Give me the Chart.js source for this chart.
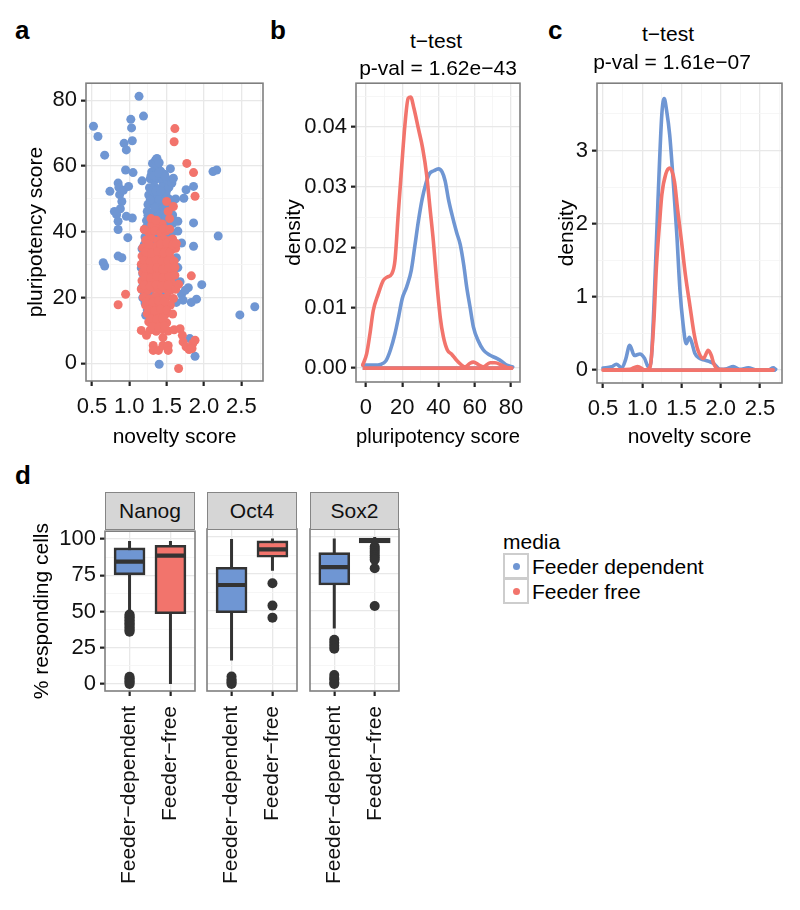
<!DOCTYPE html>
<html>
<head>
<meta charset="utf-8">
<script src="https://cdn.jsdelivr.net/npm/chart.js@4.4.1/dist/chart.umd.min.js"></script>
<style>
  body { margin: 0; background: #fff; }
  #fig { position: relative; width: 800px; height: 910px; overflow: hidden; }
  #fig canvas { position: absolute; }
  .strip { position: absolute; box-sizing: border-box; background: #D6D6D6; border: 1.5px solid #858585;
           display: flex; align-items: center; justify-content: center;
           font: 21px "Liberation Sans", Arial, sans-serif; color: #111; }
  .key { position: absolute; box-sizing: border-box; width: 26px; height: 26px; border: 2px solid #CDCDCD; }
  .key i { position: absolute; left: 8px; top: 8px; width: 7px; height: 7px; border-radius: 50%; }
</style>
</head>
<body>
<div id="fig"></div>
<script>
const FONT = '"Liberation Sans", Arial, sans-serif';
const BLUE = '#6F96D3';
const RED = '#F2746C';
const INK = '#333333';

// legend / groups
const mediaLabels = ['Feeder dependent', 'Feeder free'];

// panel a : novelty vs pluripotency (x, y)
const aDependentPts = [
  [1.33,60.5],[1.38,59.5],[1.30,58.2],[1.36,57.6],[1.42,58.4],[1.28,56.1],[1.34,55.7],[1.40,56.3],[1.45,55.2],
  [1.27,53.4],[1.33,53.9],[1.39,53.1],[1.45,53.7],[1.50,52.6],[1.26,51.2],[1.32,50.6],[1.38,51.4],[1.44,50.8],
  [1.49,51.5],[1.25,48.3],[1.31,48.9],[1.37,48.1],[1.43,48.7],[1.50,48.2],[1.24,46.2],[1.30,45.7],[1.36,46.4],
  [1.42,45.9],[1.48,46.5],[1.23,43.4],[1.29,43.9],[1.35,43.2],[1.41,43.7],[1.47,43.1],[1.22,41.2],[1.28,40.7],
  [1.34,41.4],[1.40,40.9],[1.46,41.3],[1.21,38.4],[1.27,38.9],[1.33,38.2],[1.45,38.6],[1.52,38.1],[1.20,36.1],
  [1.26,35.7],[1.48,36.3],[1.55,35.8],[1.19,33.2],[1.25,32.8],[1.50,33.4],[1.20,30.3],[1.24,29.7],[1.52,30.1],
  [1.18,27.2],[1.23,26.8],[1.19,24.1],[1.24,23.7],[1.47,24.3],[1.20,21.2],[1.26,20.8],[1.44,21.1],[1.21,18.3],
  [1.27,17.8],[1.43,18.1],[1.24,16.2],[1.30,15.8],[1.46,16.4],[1.22,14.6],
  [1.31,60.8],[1.35,61.8],[1.29,57.0],[1.47,57.5],[1.53,50.0],[1.55,47.0],[1.54,44.0],[1.52,41.5],[1.56,39.5],
  [1.58,42.5],[1.57,48.5],[1.53,53.5],[1.51,55.8],[1.25,45.0],[1.31,42.2],[1.37,44.6],[1.43,42.0],[1.49,44.6],
  [1.28,49.6],[1.34,47.3],[1.40,49.9],[1.46,47.4],[1.30,52.5],[1.36,52.4],[1.42,52.3],[1.48,49.8],[1.33,57.0],
  [1.39,57.8],[1.24,39.6],[1.30,39.9],[1.36,39.4],[1.42,38.0],[1.49,39.1],[1.23,36.9],[1.29,36.8],[1.35,36.5],
  [1.41,36.2],[1.22,34.2],[1.28,33.9],[1.46,34.6],[1.53,33.9],[1.21,31.5],[1.27,31.4],[1.55,31.5],[1.22,28.4],
  [1.28,28.6],[1.53,28.0],[1.21,25.6],[1.27,25.4],[1.50,26.6],[1.22,22.5],[1.29,22.4],[1.46,22.8],[1.23,19.5],
  [1.29,19.4],[1.41,19.6],[1.33,16.9],[1.39,16.6],[1.27,14.2],[1.36,14.9],[1.18,19.9],[1.17,23.0],[1.16,29.0],
  [1.17,34.8],
  [1.13,81.2],[1.19,75.2],[0.52,72.1],[0.58,69.0],[1.02,74.2],[1.03,71.6],[0.93,66.9],[1.04,67.7],[0.96,64.9],
  [0.67,63.3],[1.37,62.3],[1.40,61.0],[2.12,58.3],[2.17,58.8],[0.95,58.8],[1.05,58.0],[1.17,55.5],[0.74,52.3],
  [0.85,54.8],[0.86,53.5],[0.87,51.3],[0.90,49.2],[0.92,52.6],[0.83,45.2],[0.85,43.2],[0.88,47.0],[0.80,46.2],
  [0.99,53.8],[0.96,44.7],[1.04,44.2],[0.85,40.7],[0.98,38.2],[0.65,30.6],[0.67,29.6],[0.85,32.6],[0.90,32.1],
  [1.97,23.9],[1.90,19.5],[1.83,18.5],[1.79,23.0],[1.70,21.0],[1.63,18.5],[1.75,22.2],[1.68,24.8],[1.72,19.2],
  [1.86,42.7],[1.86,35.6],[1.86,53.8],[1.76,52.8],[1.73,50.2],[1.57,54.8],[1.59,56.3],[1.48,56.8],[1.55,59.2],
  [1.70,36.6],[1.65,29.1],[1.63,32.1],[1.65,40.2],[1.65,43.2],[1.58,45.1],[1.62,50.0],[2.19,38.7],[2.48,14.7],
  [2.68,17.2],[1.88,2.1],[1.40,-0.3],[1.81,7.5],[1.60,26.0],[1.56,30.0]
];
const aFreePts = [
  [1.30,42.1],[1.38,41.8],[1.44,42.4],[1.26,39.8],[1.34,40.3],[1.42,39.6],[1.49,40.2],
  [1.22,37.4],[1.30,37.9],[1.38,37.2],[1.46,37.7],[1.53,37.3],[1.58,37.8],
  [1.18,35.1],[1.26,34.7],[1.34,35.3],[1.42,34.8],[1.50,35.2],[1.57,34.6],[1.62,35.0],
  [1.17,32.6],[1.25,32.2],[1.33,32.8],[1.41,32.3],[1.49,32.7],[1.55,32.1],
  [1.16,30.1],[1.24,29.6],[1.32,30.3],[1.40,29.8],[1.48,30.2],[1.56,29.7],
  [1.18,27.6],[1.26,27.1],[1.34,27.8],[1.42,27.3],[1.50,27.7],[1.58,27.2],
  [1.17,25.1],[1.25,24.6],[1.33,25.3],[1.41,24.8],[1.49,25.2],[1.56,24.7],
  [1.16,22.6],[1.24,22.1],[1.32,22.8],[1.40,22.3],[1.48,22.7],[1.55,22.2],[1.62,22.5],
  [1.19,20.1],[1.27,19.6],[1.35,20.3],[1.43,19.8],[1.51,20.2],[1.59,19.7],
  [1.22,17.6],[1.30,17.1],[1.38,17.8],[1.46,17.3],[1.55,17.7],
  [1.24,15.1],[1.32,14.6],[1.40,15.3],[1.48,14.8],[1.26,12.6],[1.34,12.1],[1.42,12.8],[1.50,12.3],
  [1.28,10.1],[1.36,9.7],[1.44,10.3],[1.52,9.8],[1.60,10.2],
  [1.20,40.7],[1.46,41.0],[1.54,40.8],[1.29,44.0],[1.36,43.5],[1.20,31.4],[1.28,31.0],[1.36,31.5],[1.44,31.0],
  [1.52,31.2],[1.60,31.0],[1.21,26.3],[1.29,26.0],[1.37,26.5],[1.45,26.0],[1.53,26.3],[1.61,26.8],[1.20,23.8],
  [1.28,23.4],[1.36,23.9],[1.44,23.5],[1.52,23.8],[1.23,18.8],[1.31,18.6],[1.39,19.0],[1.47,18.7],[1.26,16.3],
  [1.34,16.0],[1.42,16.4],[1.50,16.1],[1.29,13.6],[1.37,13.4],[1.45,13.7],[1.31,11.2],[1.39,11.0],[1.47,11.3],
  [1.21,28.9],[1.29,28.7],[1.37,29.0],[1.45,28.6],[1.53,29.0],[1.61,29.2],[1.22,33.9],[1.30,33.5],[1.38,34.0],
  [1.46,33.6],[1.54,33.9],[1.26,36.2],[1.42,36.3],[1.50,36.5],[1.58,36.0],
  [0.85,17.8],[0.95,21.0],[1.16,10.0],[1.23,8.5],[1.68,10.5],[1.71,8.5],[1.72,6.5],[1.76,5.0],[1.80,4.2],
  [1.85,6.0],[1.88,7.0],[1.84,4.5],[1.32,5.4],[1.32,3.9],[1.39,3.9],[1.45,5.4],[1.52,5.4],[1.52,3.9],
  [1.66,-1.6],[1.83,26.6],[1.50,49.2],[1.59,47.7],[1.52,46.2],[1.61,71.4],[1.60,67.4],[1.77,60.8],
  [1.86,58.0],[1.88,50.8],[1.63,36.4],[1.66,24.0],[1.58,15.0],[1.45,7.8],[1.54,44.0]
];
const aXTicks = [0.5, 1, 1.5, 2, 2.5];
const aXLabels = ['0.5', '1.0', '1.5', '2.0', '2.5'];
const aXMinor = [0.75, 1.25, 1.75, 2.25, 2.75];
const aYTicks = [0, 20, 40, 60, 80];
const aYLabels = ['0', '20', '40', '60', '80'];
const aYMinor = [10, 30, 50, 70];

// panel b : density of pluripotency score
const bDependentCurve = [
  [-1.8,0.0005],[5,0.0005],[8,0.0006],[11,0.0012],[13.5,0.003],[16,0.0057],[18,0.0085],[20,0.0115],
  [22.5,0.0135],[25,0.0162],[27,0.0203],[29,0.0245],[31,0.028],[33,0.0305],[35,0.0322],[37.5,0.0327],
  [40,0.033],[42,0.0325],[43.7,0.031],[45.5,0.028],[47.4,0.0255],[50,0.0225],[52,0.0205],[54,0.017],
  [55.6,0.0134],[57.5,0.01],[59.3,0.0068],[62,0.0045],[64.8,0.003],[68,0.0022],[72.2,0.0016],[75,0.0011],
  [77.7,0.0005],[81,0.0002]
];
const bFreeCurve = [
  [-1.8,0.0005],[0.4,0.0024],[2.2,0.0057],[4.0,0.0095],[6.8,0.0123],[9.5,0.0145],[11.8,0.0151],[14.2,0.0156],
  [16,0.0178],[17.8,0.0255],[19.7,0.0333],[21.5,0.0403],[23.3,0.0447],[24.7,0.0449],[26.5,0.043],[28.9,0.0397],
  [31.3,0.0364],[33.5,0.032],[35.3,0.0266],[37.2,0.021],[39,0.0145],[41,0.0084],[42.7,0.0052],[44.9,0.003],
  [47.3,0.0023],[50,0.0013],[52.8,0.0005],[54.7,0.0002],[57.4,0.0008],[59.3,0.001],[62,0.0006],[64.7,0.0002],
  [68.5,0.0009],[71.2,0.0009],[74.9,0.0005],[77.6,0.0001],[80.5,0]
];
const bXTicks = [0, 20, 40, 60, 80];
const bXLabels = ['0', '20', '40', '60', '80'];
const bXMinor = [10, 30, 50, 70];
const bYTicks = [0, 0.01, 0.02, 0.03, 0.04];
const bYLabels = ['0.00', '0.01', '0.02', '0.03', '0.04'];
const bYMinor = [0.005, 0.015, 0.025, 0.035, 0.045];

// panel c : density of novelty score
const cDependentCurve = [
  [0.5,0.03],[0.61,0.045],[0.67,0.08],[0.74,0.03],[0.79,0.15],[0.84,0.34],[0.9,0.2],[0.97,0.22],[1.03,0.16],
  [1.08,0.04],[1.11,0.1],[1.15,0.9],[1.2,2.3],[1.25,3.5],[1.28,3.71],[1.31,3.55],[1.35,3.21],[1.4,2.5],
  [1.44,1.86],[1.48,1.1],[1.52,0.63],[1.56,0.36],[1.6,0.45],[1.63,0.38],[1.67,0.23],[1.73,0.16],[1.78,0.14],
  [1.85,0.12],[1.91,0.09],[1.99,0.01],[2.08,0.02],[2.16,0.05],[2.24,0.01],[2.35,0.03],[2.46,0],[2.6,0],
  [2.67,0.03],[2.7,0.01]
];
const cFreeCurve = [
  [0.5,0],[0.84,0.01],[0.94,0.05],[1.04,0],[1.1,0.04],[1.15,0.7],[1.18,1.4],[1.22,2.0],[1.25,2.4],[1.3,2.68],
  [1.35,2.76],[1.41,2.58],[1.45,2.2],[1.5,1.76],[1.55,1.3],[1.61,0.86],[1.66,0.5],[1.71,0.27],[1.78,0.16],
  [1.84,0.27],[1.88,0.2],[1.91,0.09],[1.97,0.01],[2.67,0]
];
const cXTicks = [0.5, 1, 1.5, 2, 2.5];
const cXLabels = ['0.5', '1.0', '1.5', '2.0', '2.5'];
const cXMinor = [0.75, 1.25, 1.75, 2.25, 2.75];
const cYTicks = [0, 1, 2, 3];
const cYLabels = ['0', '1', '2', '3'];
const cYMinor = [0.5, 1.5, 2.5, 3.5];

// panel d : % responding cells, one box per facet x group
const dFacets = ['Nanog', 'Oct4', 'Sox2'];
const dGroups = ['Feeder\u2212dependent', 'Feeder\u2212free'];
const dWhiskerLow = [[49.5, 0], [15.9, 77.0], [37.8, 93.5]];
const dQ1 = [[75.3, 48.5], [48.5, 86.2], [67.3, 96.0]];
const dMedian = [[84.4, 88.6], [67.3, 91.6], [79.4, 97.8]];
const dQ3 = [[93.9, 95.7], [79.4, 97.3], [89.3, 99.3]];
const dWhiskerHigh = [[98.6, 98.6], [98.6, 99.0], [99.0, 100]];
const dOutliers = [
  [[48, 47, 46, 45, 44, 43, 42, 41, 40, 39, 38, 37, 36, 5, 4, 3, 2, 1, 0], []],
  [[5, 3, 2, 1, 0], [68.5, 53.3, 45.1]],
  [[30, 28, 26, 24, 6, 4, 3, 1, 0], [93.5, 92, 90.5, 89, 87.5, 86, 84.5, 78.7, 53]]
];
const dYTicks = [0, 25, 50, 75, 100];
const dYLabels = ['0', '25', '50', '75', '100'];
const dYMinor = [12.5, 37.5, 62.5, 87.5];

const fig = document.getElementById('fig');

function text(str, x, baseline, size, opt) {
  opt = opt || {};
  const d = document.createElement('div');
  d.textContent = str;
  let css = 'position:absolute;line-height:1;white-space:nowrap;color:#000;' +
    'font:' + (opt.bold ? 'bold ' : '') + size + 'px ' + FONT + ';' +
    'top:' + (baseline - 0.8465 * size) + 'px;';
  if (opt.center) css += 'left:' + (x - 200) + 'px;width:400px;text-align:center;';
  else css += 'left:' + x + 'px;';
  d.style.cssText = css;
  fig.appendChild(d);
}

const framePlugin = {
  id: 'frame',
  afterDatasetsDraw(chart) {
    const { ctx, chartArea: a } = chart;
    ctx.save();
    ctx.strokeStyle = '#7F7F7F';
    ctx.lineWidth = 1.6;
    ctx.strokeRect(a.left, a.top, a.right - a.left, a.bottom - a.top);
    ctx.restore();
  }
};

function axis(o) {
  const minor = new Set(o.minor || []);
  const isMinor = (ctx) => ctx.tick && minor.has(ctx.tick.value);
  return {
    type: 'linear',
    min: o.min,
    max: o.max,
    offset: false,
    afterBuildTicks: (s) => { s.ticks = o.major.concat(o.minor || []).map(v => ({ value: v })); },
    afterFit: (s) => { if (s.isHorizontal()) s.height = o.size; else s.width = o.size; },
    ticks: {
      display: o.labels !== undefined,
      autoSkip: false,
      maxRotation: o.rot || 0,
      minRotation: o.rot || 0,
      padding: o.pad === undefined ? 4 : o.pad,
      color: '#111',
      font: { family: FONT, size: o.fs || 22 },
      callback: (v) => { const i = o.major.indexOf(v); return i < 0 || !o.labels ? '' : o.labels[i]; }
    },
    grid: {
      offset: false,
      drawTicks: o.labels !== undefined,
      tickLength: 5,
      tickWidth: 2.2,
      color: (ctx) => isMinor(ctx) ? '#F4F4F4' : '#E8E8E8',
      lineWidth: (ctx) => isMinor(ctx) ? 0.8 : 1.3,
      tickColor: (ctx) => isMinor(ctx) ? 'rgba(0,0,0,0)' : '#222'
    },
    border: { display: false },
    title: {
      display: !!o.title,
      text: o.title,
      padding: 0,
      color: '#000',
      font: { family: FONT, size: 21 }
    }
  };
}

function makeChart(left, top, w, h, config) {
  const c = document.createElement('canvas');
  c.width = w;
  c.height = h;
  c.style.left = left + 'px';
  c.style.top = top + 'px';
  fig.appendChild(c);
  config.options.responsive = false;
  config.options.animation = false;
  config.options.devicePixelRatio = 1;
  config.options.events = [];
  config.options.plugins = { legend: { display: false }, tooltip: { enabled: false } };
  config.plugins = [framePlugin];
  return new Chart(c, config);
}

const toXY = (pts) => pts.map(p => ({ x: p[0], y: p[1] }));
const baseline = (pts) => [{ x: pts[0][0], y: 0 }, { x: pts[pts.length - 1][0], y: 0 }];

// ---------- panel a ----------
makeChart(24, 66, 251, 384, {
  type: 'scatter',
  data: {
    datasets: [
      { label: mediaLabels[1], data: toXY(aFreePts), backgroundColor: RED, pointRadius: 4.5, pointBorderWidth: 0, order: 0 },
      { label: mediaLabels[0], data: toXY(aDependentPts), backgroundColor: BLUE, pointRadius: 4.5, pointBorderWidth: 0, order: 1 }
    ]
  },
  options: {
    layout: { padding: { left: 0, top: 15, right: 12, bottom: 0 } },
    scales: {
      x: axis({ min: 0.42, max: 2.79, major: aXTicks, labels: aXLabels, minor: aXMinor, size: 69, pad: 8, title: 'novelty score' }),
      y: axis({ min: -5.4, max: 85.2, major: aYTicks, labels: aYLabels, minor: aYMinor, size: 62, title: 'pluripotency score' })
    }
  }
});

// ---------- density panels ----------
function curveSet(pts, color, order) {
  return [
    { data: toXY(pts), showLine: true, borderColor: color, borderWidth: 3.6, pointRadius: 0,
      cubicInterpolationMode: 'monotone', borderJoinStyle: 'round', borderCapStyle: 'round', order: order },
    { data: baseline(pts), showLine: true, borderColor: color, borderWidth: 3.6, pointRadius: 0, order: order }
  ];
}

makeChart(282, 66, 250, 384, {
  type: 'scatter',
  data: { datasets: curveSet(bFreeCurve, RED, 0).concat(curveSet(bDependentCurve, BLUE, 1)) },
  options: {
    layout: { padding: { left: 0, top: 15, right: 12, bottom: 0 } },
    scales: {
      x: axis({ min: -5.5, max: 85, major: bXTicks, labels: bXLabels, minor: bXMinor, size: 68, pad: 8, title: 'pluripotency score' }),
      y: axis({ min: -0.0023, max: 0.0472, major: bYTicks, labels: bYLabels, minor: bYMinor, size: 74, title: 'density' })
    }
  }
});

makeChart(555, 66, 239, 384, {
  type: 'scatter',
  data: { datasets: curveSet(cFreeCurve, RED, 0).concat(curveSet(cDependentCurve, BLUE, 1)) },
  options: {
    layout: { padding: { left: 0, top: 15, right: 12, bottom: 0 } },
    scales: {
      x: axis({ min: 0.424, max: 2.78, major: cXTicks, labels: cXLabels, minor: cXMinor, size: 67, pad: 8, title: 'novelty score' }),
      y: axis({ min: -0.176, max: 3.92, major: cYTicks, labels: cYLabels, minor: cYMinor, size: 42, title: 'density' })
    }
  }
});

// ---------- panel d : boxplots ----------
const BOX_HALF = 0.375;
const facetLeft = [105, 207, 310];
const facetWidth = [90, 90, 89];
dFacets.forEach((name, f) => {
  const first = f === 0;
  const padL = first ? 0 : 15;
  const yW = first ? 75 : 0;
  const canvasLeft = facetLeft[f] - yW - padL;
  const w = padL + yW + facetWidth[f] + 15;

  const whiskers = [], medians = [], outliers = [];
  dGroups.forEach((g, i) => {
    const x = i + 1;
    if (i > 0) { whiskers.push({ x: x - 0.5, y: null }); medians.push({ x: x - 0.5, y: null }); }
    whiskers.push({ x: x, y: dWhiskerLow[f][i] }, { x: x, y: dWhiskerHigh[f][i] });
    medians.push({ x: x - BOX_HALF, y: dMedian[f][i] }, { x: x + BOX_HALF, y: dMedian[f][i] });
    dOutliers[f][i].forEach(v => outliers.push({ x: x, y: v }));
  });

  makeChart(canvasLeft, 514, w, 386, {
    type: 'bar',
    data: {
      datasets: [
        { type: 'line', data: outliers, showLine: false, pointRadius: 5, pointBorderWidth: 0,
          pointBackgroundColor: INK, order: 0 },
        { type: 'line', data: medians, borderColor: INK, borderWidth: 4.2, pointRadius: 0,
          borderCapStyle: 'butt', spanGaps: false, order: 1 },
        { type: 'bar', data: dGroups.map((g, i) => ({ x: i + 1, y: [dQ1[f][i], dQ3[f][i]] })),
          backgroundColor: [BLUE, RED], borderColor: INK, borderWidth: 2.6, borderSkipped: false,
          barThickness: 31, order: 2 },
        { type: 'line', data: whiskers, borderColor: INK, borderWidth: 3, pointRadius: 0,
          borderCapStyle: 'butt', spanGaps: false, order: 3 }
      ]
    },
    options: {
      layout: { padding: { left: padL, top: 15, right: 15, bottom: 0 } },
      scales: {
        x: axis({ min: 0.4, max: 2.6, major: [1, 2], labels: dGroups, size: 209, pad: 10, rot: 90, fs: 21 }),
        y: first
          ? axis({ min: -4.8, max: 105.4, major: dYTicks, labels: dYLabels, minor: dYMinor, size: yW, title: '% responding cells' })
          : axis({ min: -4.8, max: 105.4, major: dYTicks, minor: dYMinor, size: 0 })
      }
    }
  });

  const s = document.createElement('div');
  s.className = 'strip';
  s.textContent = name;
  s.style.left = facetLeft[f] + 'px';
  s.style.top = '492px';
  s.style.width = facetWidth[f] + 'px';
  s.style.height = '38px';
  fig.appendChild(s);
});

// ---------- texts ----------
text('a', 15, 37, 26, { bold: true });
text('b', 270, 37, 26, { bold: true });
text('c', 548, 37, 26, { bold: true });
text('d', 15, 482, 26, { bold: true });
text('t\u2212test', 436, 47, 21, { center: true });
text('p-val = 1.62e\u221243', 438, 74, 21, { center: true });
text('t\u2212test', 668, 40, 21, { center: true });
text('p-val = 1.61e\u221207', 672, 68, 21, { center: true });

// legend
text('media', 503, 548, 21);
[BLUE, RED].forEach((col, i) => {
  const k = document.createElement('div');
  k.className = 'key';
  k.style.left = '503px';
  k.style.top = (553 + i * 25) + 'px';
  const dot = document.createElement('i');
  dot.style.background = col;
  k.appendChild(dot);
  fig.appendChild(k);
  text(mediaLabels[i], 532, 573 + i * 25, 21);
});
</script>
</body>
</html>
